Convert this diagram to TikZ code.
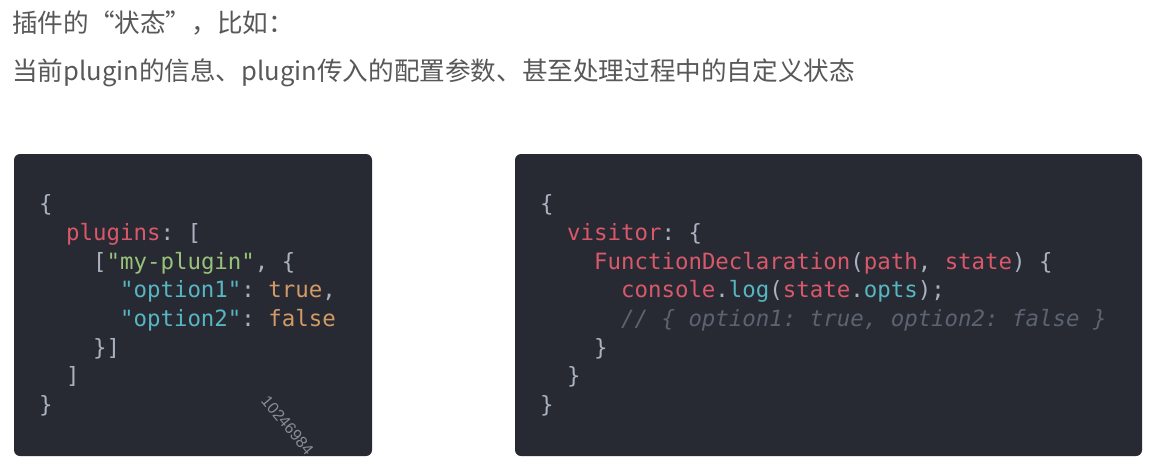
\documentclass[tikz,border=0pt]{standalone}
\usepackage{fontspec}
\setmonofont{DejaVu Sans Mono}
\newfontfamily\cjk{Noto Sans CJK SC}
\newfontfamily\wmfont{Liberation Sans}
\definecolor{bgdark}{HTML}{282A33}
\definecolor{hdr}{HTML}{585858}
\definecolor{kred}{HTML}{D9586A}
\definecolor{kgreen}{HTML}{98C379}
\definecolor{kcyan}{HTML}{56B6C2}
\definecolor{korange}{HTML}{D19A66}
\definecolor{kpunc}{HTML}{ABB2BF}
\definecolor{kcomment}{HTML}{5C6370}
\definecolor{wm}{HTML}{8A8C93}
\newcommand{\R}[1]{\textcolor{kred}{#1}}
\newcommand{\G}[1]{\textcolor{kgreen}{#1}}
\newcommand{\C}[1]{\textcolor{kcyan}{#1}}
\newcommand{\Or}[1]{\textcolor{korange}{#1}}
\begin{document}
\begin{tikzpicture}[x=1pt,y=-1pt,
  panel/.style={fill=bgdark,rounded corners=6pt,draw=none,inner sep=0pt,outer sep=0pt,anchor=north west},
  hdrtext/.style={anchor=base west,inner sep=0pt,text=hdr,font=\cjk\fontsize{25.6}{30}\selectfont},
  codeline/.style={anchor=base west,inner sep=0pt,text=kpunc,font=\ttfamily\fontsize{22.4}{28.7}\selectfont},
  commentline/.style={codeline,text=kcomment,font=\ttfamily\itshape\fontsize{22.4}{28.7}\selectfont}]
\useasboundingbox (0,0) rectangle (1149,464);
\fill[white] (0,0) rectangle (1149,464);
% header
\node[hdrtext] (h1) at (12,32) {插件的“状态”，比如：};
\node[hdrtext] (h2) at (12,80) {当前plugin的信息、plugin传入的配置参数、甚至处理过程中的自定义状态};
% panels
\node[panel,minimum width=358pt,minimum height=302pt] (leftpanel) at (14,154) {};
\node[panel,minimum width=627pt,minimum height=302pt] (rightpanel) at (515,154) {};
% left code
\def\cw{13.48}
\node[codeline] (l1) at (39,211.5) {\{};
\node[codeline] (l2) at (39+2*\cw,240) {\R{plugins}: [};
\node[codeline] (l3) at (39+4*\cw,269) {[\G{"my-plugin"}, \{};
\node[codeline] (l4) at (39+6*\cw,297.5) {\C{"option1"}: \Or{true},};
\node[codeline] (l5) at (39+6*\cw,326) {\C{"option2"}: \Or{false}};
\node[codeline] (l6) at (39+4*\cw,355) {\}]};
\node[codeline] (l7) at (39+2*\cw,383.5) {]};
\node[codeline] (l8) at (39,412) {\}};
% watermark
\begin{scope}
\clip[rounded corners=6pt] (14,154) rectangle (372,456);
\node[anchor=north west,inner sep=0pt,rotate=-50,text=wm,font=\wmfont\fontsize{16}{16}\selectfont] (wmk) at (269,394) {10246984};
\end{scope}
% right code
\node[codeline] (r1) at (540,211.5) {\{};
\node[codeline] (r2) at (540+2*\cw,240) {\R{visitor}: \{};
\node[codeline] (r3) at (540+4*\cw,269) {\R{FunctionDeclaration}(\R{path}, \R{state}) \{};
\node[codeline] (r4) at (540+6*\cw,297.5) {\R{console}.\C{log}(\R{state}.\C{opts});};
\node[commentline] (r5) at (540+6*\cw,326) {// \{ option1: true, option2: false \}};
\node[codeline] (r6) at (540+4*\cw,355) {\}};
\node[codeline] (r7) at (540+2*\cw,383.5) {\}};
\node[codeline] (r8) at (540,412) {\}};
\end{tikzpicture}
\end{document}
